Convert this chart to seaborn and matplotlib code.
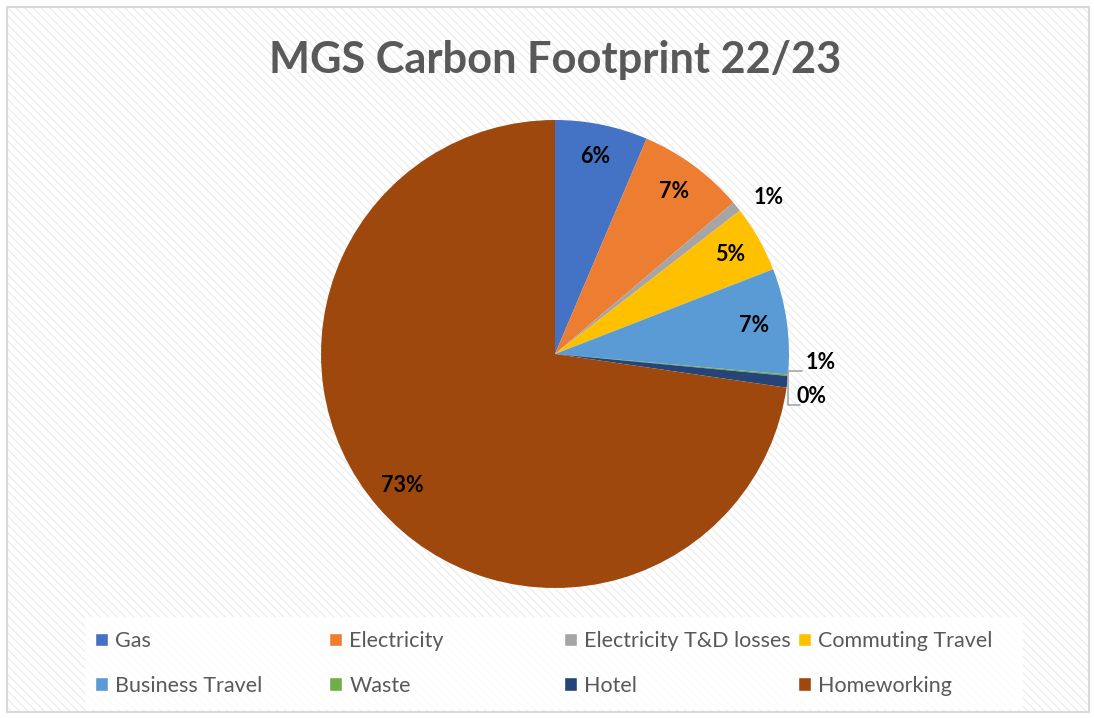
import numpy as np
import matplotlib
matplotlib.use("Agg")
import matplotlib.pyplot as plt
from matplotlib.patches import Rectangle, Patch
import seaborn as sns

# ---- data ----
categories = ["Gas", "Electricity", "Electricity T&D losses", "Commuting Travel",
              "Business Travel", "Waste", "Hotel", "Homeworking"]
shares = [6.4, 7.4, 0.7, 4.6, 7.3, 0.1, 0.8, 72.7]
colors = ["#4472C4", "#ED7D31", "#A5A5A5", "#FFC000",
          "#5B9BD5", "#70AD47", "#264478", "#9E480E"]
title = "MGS Carbon Footprint 22/23"

sns.set_theme(style="white")
plt.rcParams['font.family'] = ['Lato', 'DejaVu Sans']
plt.rcParams['hatch.linewidth'] = 0.8

W, H = 1094, 718
fig = plt.figure(figsize=(W / 100, H / 100), dpi=100)
fig.patch.set_facecolor('white')

# background with diagonal stripes
bg = Rectangle((7 / W, 6 / H), (1089 - 7) / W, (712 - 7) / H, transform=fig.transFigure,
               facecolor='white', edgecolor='#ebebeb', hatch='\\\\\\\\', lw=0, zorder=-3)
fig.patches.append(bg)
border = Rectangle((7 / W, 6 / H), (1089 - 7) / W, (712 - 7) / H, transform=fig.transFigure,
                   fill=False, edgecolor='#d9d9d9', lw=1.5, zorder=-1)
fig.patches.append(border)
# legend area panel
lg = Rectangle((85 / W, (H - 710) / H), (1023 - 85) / W, (710 - 617) / H, transform=fig.transFigure,
               facecolor='white', edgecolor='none', alpha=0.85, zorder=-2)
fig.patches.append(lg)

# title
fig.text(555 / W, 1 - 60 / H, title, ha='center', va='center', fontsize=31.2,
         fontweight='bold', color='#595959')

# pie axes
cx, cy, r = 555, 354, 234
ax = fig.add_axes([(cx - r) / W, (H - cy - r) / H, 2 * r / W, 2 * r / H])
ax.set_zorder(5)
pal = sns.color_palette(colors)
wedges, texts, autotexts = ax.pie(
    shares, colors=pal, startangle=90, counterclock=False,
    autopct=lambda p: f"{p:.0f}%", pctdistance=0.86, radius=1,
    textprops=dict(fontsize=15.5, fontweight='bold', color='black'),
    wedgeprops=dict(linewidth=0))
ax.set_xlim(-1, 1)
ax.set_ylim(-1, 1)
ax.set_aspect('equal')
ax.axis('off')
ax.patch.set_alpha(0)

def mid(w):
    return np.deg2rad((w.theta1 + w.theta2) / 2)

# T&D label outside
t = mid(wedges[2]) - np.deg2rad(2.9)
autotexts[2].set_position((1.13 * np.cos(t), 1.13 * np.sin(t)))

# Waste / Hotel labels outside with bracket leader lines
t = mid(wedges[5])
axx, ayy = np.cos(t), np.sin(t)
autotexts[6].set_position((axx + 0.14, ayy + 0.055))
autotexts[5].set_position((axx + 0.10, ayy - 0.09))
lc = '#a6a6a6'
ax.plot([axx, axx + 0.06], [ayy + 0.02, ayy + 0.02], color=lc, lw=1.2, clip_on=False)
ax.plot([axx, axx, axx + 0.05], [ayy + 0.02, ayy - 0.125, ayy - 0.125], color=lc, lw=1.2,
        clip_on=False)

# legend: four columns evenly spaced
col_x = [95, 329, 564, 798]
for i, x in enumerate(col_x):
    handles = [Patch(facecolor=pal[i]), Patch(facecolor=pal[i + 4])]
    labels = [categories[i], categories[i + 4]]
    leg = fig.legend(handles, labels, loc='upper left', bbox_to_anchor=(x / W, (H - 631) / H),
                     frameon=False, fontsize=15.5, labelcolor='#595959', handlelength=0.6,
                     handleheight=0.6, handletextpad=0.35, labelspacing=1.15, borderpad=0,
                     borderaxespad=0)

fig.savefig("out.png", dpi=100)
